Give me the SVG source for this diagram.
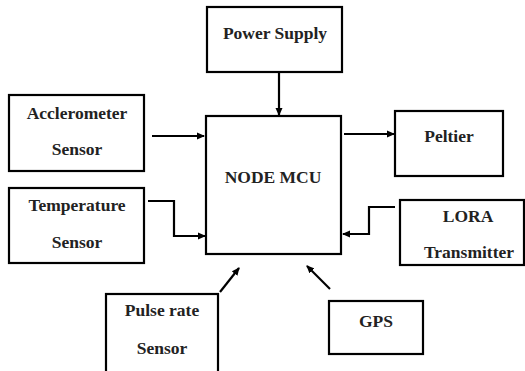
<svg xmlns="http://www.w3.org/2000/svg" width="525" height="371" viewBox="0 0 525 371">
<style>
.box{fill:#fff;stroke:#000;stroke-width:2.2}
.t{font-family:'Liberation Serif','Times New Roman','DejaVu Serif',serif;font-weight:bold;font-size:17.5px;text-anchor:middle;fill:#222}
.c{fill:none;stroke:#000;stroke-width:2.2;marker-end:url(#ah)}
</style>
<defs>
<marker id="ah" markerWidth="8" markerHeight="8" refX="7" refY="4" orient="auto" markerUnits="userSpaceOnUse">
<path d="M0,0.5 L8,4 L0,7.5 Z" fill="#000"/>
</marker>
</defs>
<rect width="525" height="371" fill="#fff"/>
<g id="power"><rect class="box" x="207" y="7" width="135" height="65"/><text class="t" x="275" y="39">Power Supply</text></g>
<g id="accel"><rect class="box" x="9" y="95" width="135" height="76"/><text class="t" x="77" y="119">Acclerometer</text><text class="t" x="77" y="155">Sensor</text></g>
<g id="nodemcu"><rect class="box" x="206" y="116" width="135" height="138"/><text class="t" x="273" y="183">NODE MCU</text></g>
<g id="peltier"><rect class="box" x="395" y="111" width="108" height="65"/><text class="t" x="449" y="142">Peltier</text></g>
<g id="temp"><rect class="box" x="9" y="188" width="135" height="75"/><text class="t" x="77" y="211">Temperature</text><text class="t" x="77" y="248">Sensor</text></g>
<g id="lora"><rect class="box" x="400" y="200" width="124" height="65"/><text class="t" x="468" y="222">LORA</text><text class="t" x="469" y="258">Transmitter</text></g>
<g id="pulse"><rect class="box" x="106" y="294" width="112" height="80"/><text class="t" x="162" y="316">Pulse rate</text><text class="t" x="162" y="354">Sensor</text></g>
<g id="gps"><rect class="box" x="329" y="301" width="94" height="53"/><text class="t" x="376" y="327">GPS</text></g>
<g id="connectors">
<path class="c" d="M279,72 V115"/>
<path class="c" d="M152,136 H204"/>
<path class="c" d="M344,134 H394"/>
<path class="c" d="M148,201 H174 V236 H205"/>
<path class="c" d="M220,292 L239,268"/>
<path class="c" d="M395,207 H369 V234 H343"/>
<path class="c" d="M330,289 L307,266"/>
</g>
</svg>
